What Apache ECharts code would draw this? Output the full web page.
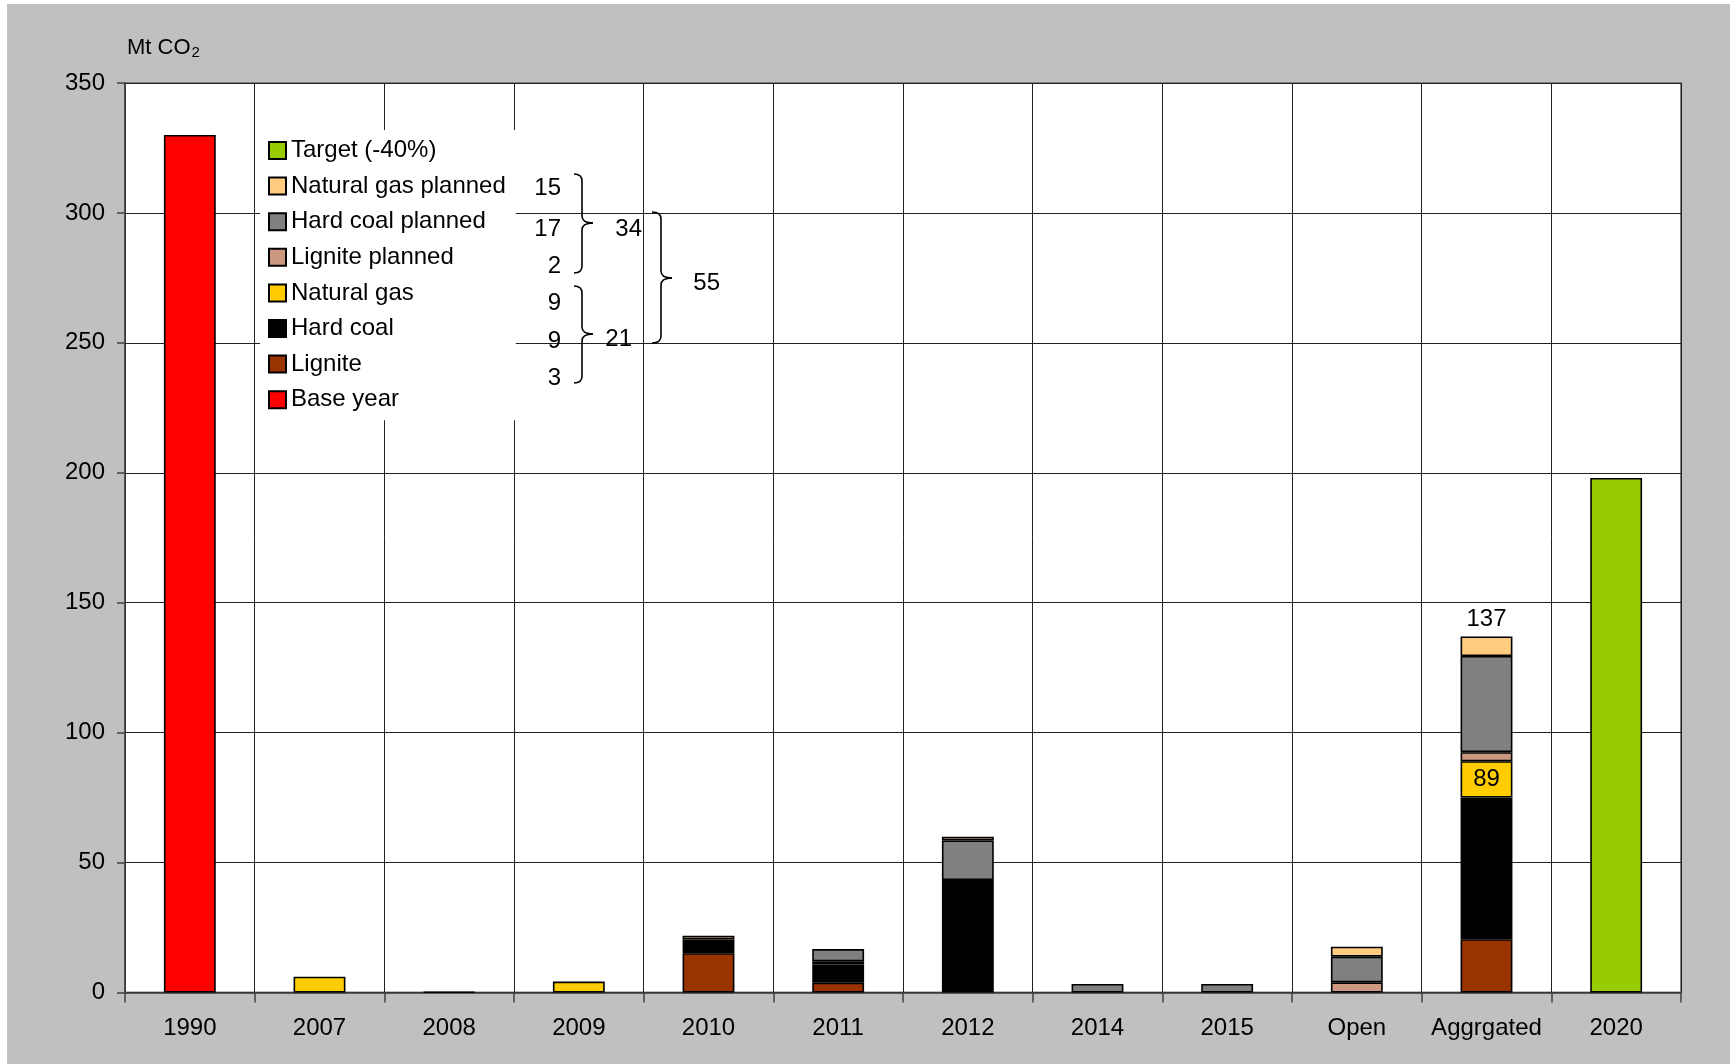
<!DOCTYPE html>
<html>
<head>
<meta charset="utf-8">
<script src="https://cdn.jsdelivr.net/npm/echarts@6/dist/echarts.min.js"></script>
<style>
  html, body { margin: 0; padding: 0; background: #fff; }
  #bg { position: absolute; left: 7px; top: 4px; width: 1723px; height: 1060px; background: #C0C0C0; }
  #chart { position: absolute; left: 0; top: 0; width: 1734px; height: 1064px; }
</style>
</head>
<body>
<div id="bg"></div>
<div id="chart"></div>
<script>
// Categories along the x axis
const categories = ['1990', '2007', '2008', '2009', '2010', '2011', '2012', '2014', '2015', 'Open', 'Aggrgated', '2020'];

// Emissions in Mt CO2 per category ('-' = no bar)
const baseYear     = [330, '-', '-', '-', '-', '-', '-', '-', '-', '-', '-', '-'];
const lignite      = ['-', '-', '-', '-', 15.1, 3.8, '-', '-', '-', '-', 20.5, '-'];
const hardCoal     = ['-', '-', 0.2, '-', 5.3, 7.0, 43.3, '-', '-', '-', 54.5, '-'];
const naturalGas   = ['-', 6.1, '-', 4.2, '-', 1.2, '-', '-', '-', '-', 14, '-'];
const lignitePlan  = ['-', '-', '-', '-', '-', '-', '-', '-', '-', 3.9, 3.5, '-'];
const hardCoalPlan = ['-', '-', '-', '-', '-', 4.7, 15.2, 3.3, 3.3, 9.9, 37, '-'];
const gasPlan      = ['-', '-', '-', '-', 1.4, '-', 1.4, '-', '-', 3.8, 7.5, '-'];
const target       = ['-', '-', '-', '-', '-', '-', '-', '-', '-', '-', '-', 198];

// Y axis ticks
const yTicks = [0, 50, 100, 150, 200, 250, 300, 350];

// Number of plants per fuel type, listed beside the legend (top to bottom)
const plantCounts = [15, 17, 2, 9, 9, 3];

const AGG = categories.indexOf('Aggrgated');
const num = v => (typeof v === 'number' ? v : 0);
const existingTotal = num(lignite[AGG]) + num(hardCoal[AGG]) + num(naturalGas[AGG]);
const grandTotal = existingTotal + num(lignitePlan[AGG]) + num(hardCoalPlan[AGG]) + num(gasPlan[AGG]);

const FONT = 'Liberation Sans, Arial, sans-serif';
const FS = 24;

function withLabel(arr, idx, label) {
  return arr.map((v, i) => (i === idx ? { value: v, label: label } : v));
}

function barSeries(name, data, color) {
  return {
    name: name,
    type: 'bar',
    stack: 'total',
    barWidth: '40%',
    data: data,
    itemStyle: { color: color, borderColor: '#000', borderWidth: 1.6 },
    emphasis: { disabled: true }
  };
}

const series = [
  barSeries('Base year', baseYear, '#FF0000'),
  barSeries('Lignite', lignite, '#993300'),
  barSeries('Hard coal', hardCoal, '#000000'),
  barSeries('Natural gas', withLabel(naturalGas, AGG, {
    show: true, position: 'inside', color: '#000', fontSize: FS, fontFamily: FONT,
    formatter: () => String(Math.round(existingTotal))
  }), '#FFCC00'),
  barSeries('Lignite planned', lignitePlan, '#CC9980'),
  barSeries('Hard coal planned', hardCoalPlan, '#808080'),
  barSeries('Natural gas planned', withLabel(gasPlan, AGG, {
    show: true, position: 'top', distance: 5, color: '#000', fontSize: FS, fontFamily: FONT,
    formatter: () => String(Math.round(grandTotal))
  }), '#FFCC80'),
  barSeries('Target (-40%)', target, '#99CC00')
];

const braceStyle = { stroke: '#000', lineWidth: 1.6, fill: null };

// Right-pointing curly brace: hook ends at xl, spine at xm, tip at xt
function brace(xl, xm, xt, y1, ym, y2) {
  const r = 7;
  const curve = (x1, yA, cx, cy, x2, yB) => ({
    type: 'bezierCurve', z: 100, silent: true,
    shape: { x1: x1, y1: yA, cpx1: cx, cpy1: cy, x2: x2, y2: yB },
    style: braceStyle
  });
  const seg = (yA, yB) => ({
    type: 'line', z: 100, silent: true,
    shape: { x1: xm, y1: yA, x2: xm, y2: yB },
    style: braceStyle
  });
  return [
    curve(xl, y1, xm, y1, xm, y1 + r),
    seg(y1 + r, ym - r),
    curve(xm, ym - r, xm, ym, xt, ym),
    curve(xt, ym, xm, ym, xm, ym + r),
    seg(ym + r, y2 - r),
    curve(xm, y2 - r, xm, y2, xl, y2)
  ];
}

const plannedSum = plantCounts[0] + plantCounts[1] + plantCounts[2];
const existingSum = plantCounts[3] + plantCounts[4] + plantCounts[5];
const countRows = [188, 229, 266, 303, 341, 378];

const txt = (x, y, s) => ({
  type: 'text', x: x, y: y, z: 100, silent: true,
  style: { text: s, fontSize: FS, fontFamily: FONT, fill: '#000', align: 'right', verticalAlign: 'middle' }
});

let graphics = [];
plantCounts.forEach((c, i) => graphics.push(txt(561, countRows[i], String(c))));
graphics = graphics.concat(brace(574, 582, 593, 174, 223, 273));
graphics = graphics.concat(brace(574, 582, 593, 286, 334, 383));
graphics = graphics.concat(brace(652, 661, 672, 212, 278, 343));
graphics.push(txt(642, 229, String(plannedSum)));
graphics.push(txt(632, 339, String(existingSum)));
graphics.push(txt(720, 283, String(plannedSum + existingSum)));

const chart = echarts.init(document.getElementById('chart'), null, { renderer: 'canvas' });
chart.setOption({
  backgroundColor: 'transparent',
  animation: false,
  textStyle: { fontFamily: FONT },
  grid: {
    left: 125, right: 53, top: 83, bottom: 71.5,
    show: true, backgroundColor: '#fff', borderColor: '#808080', borderWidth: 2
  },
  legend: {
    orient: 'vertical',
    left: 260, top: 130,
    padding: [8, 10, 8, 8],
    backgroundColor: '#fff',
    itemGap: 10.6,
    itemWidth: 17, itemHeight: 17,
    icon: 'rect',
    itemStyle: { borderColor: '#000', borderWidth: 2 },
    textStyle: { fontSize: FS, color: '#000', fontFamily: FONT, lineHeight: 25 },
    selectedMode: false,
    data: ['Target (-40%)', 'Natural gas planned', 'Hard coal planned', 'Lignite planned',
           'Natural gas', 'Hard coal', 'Lignite', 'Base year']
  },
  xAxis: {
    type: 'category',
    data: categories,
    axisLine: { show: true, lineStyle: { color: '#404040', width: 1.5 } },
    axisTick: { show: true, interval: 0, length: 10, lineStyle: { color: '#404040', width: 1.5 } },
    axisLabel: { interval: 0, fontSize: FS, color: '#000', margin: 24, fontFamily: FONT },
    splitLine: { show: true, interval: 0, lineStyle: { color: '#222', width: 1 } }
  },
  yAxis: {
    type: 'value',
    min: yTicks[0], max: yTicks[yTicks.length - 1], interval: yTicks[1] - yTicks[0],
    name: '{a|Mt CO}{b|2}',
    nameLocation: 'end',
    nameGap: 23,
    nameTextStyle: {
      align: 'left', padding: [0, 0, 0, 2],
      rich: {
        a: { fontSize: 22, color: '#000', fontFamily: FONT },
        b: { fontSize: 15, color: '#000', fontFamily: FONT, padding: [10, 0, 0, 1] }
      }
    },
    axisLine: { show: true, lineStyle: { color: '#404040', width: 1.5 } },
    axisTick: { show: true, length: 8, lineStyle: { color: '#404040', width: 1.5 } },
    axisLabel: { fontSize: FS, color: '#000', margin: 20, fontFamily: FONT },
    splitLine: { show: true, lineStyle: { color: '#222', width: 1 } }
  },
  series: series,
  graphic: graphics
});
</script>
</body>
</html>
